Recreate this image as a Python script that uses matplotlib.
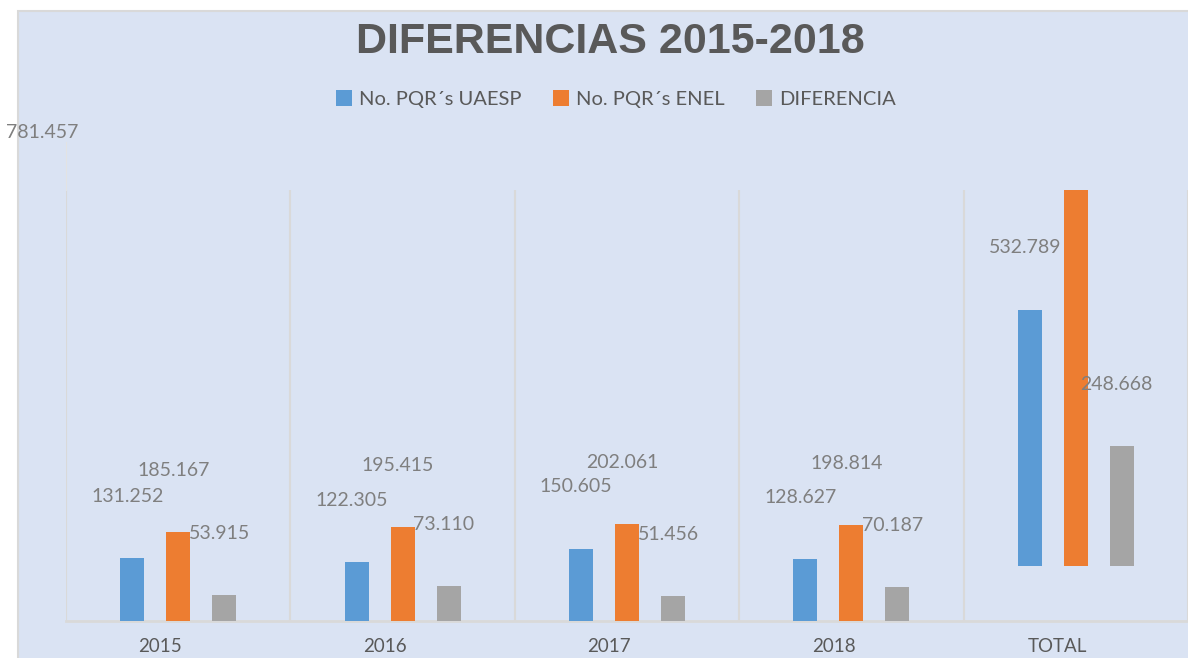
import numpy as np
import matplotlib
matplotlib.use("Agg")
import matplotlib.pyplot as plt
from matplotlib.patches import Rectangle, Patch
from matplotlib.lines import Line2D

# Data (thousands, Spanish decimal style in labels)

categories = ["2015", "2016", "2017", "2018", "TOTAL"]
uaesp = [131.252, 122.305, 150.605, 128.627, 532.789]
enel = [185.167, 195.415, 202.061, 198.814, 781.457]
diferencia = [53.915, 73.110, 51.456, 70.187, 248.668]
series_names = ["No. PQR´s UAESP", "No. PQR´s ENEL", "DIFERENCIA"]

colors = ["#5B9BD5", "#ED7D31", "#A5A5A5"]
label_color = "#7F7F7F"
text_color = "#595959"
bg = "#DAE3F3"

# Figure

W, H = 1188, 658
fig = plt.figure(figsize=(W / 100, H / 100), dpi=100)
fig.patch.set_facecolor("white")
fig.patches.append(Rectangle((18 / W, -0.01), 1 - 18 / W + 0.01, 1.01 - 11 / H,
                             transform=fig.transFigure, facecolor=bg,
                             edgecolor="#D9D9D9", linewidth=1.5, zorder=-10))

ax = fig.add_axes([66 / W, (H - 621) / H, 1 - 66 / W, 431 / H])
ax.set_facecolor("none")

x = np.arange(len(categories))
offsets = [-0.205, 0.0, 0.205]
width = 0.107
total_base = 114.6   # the TOTAL group floats above the axis in the original

bottoms = np.array([0, 0, 0, 0, total_base])
all_bars = []
for vals, off, col in zip([uaesp, enel, diferencia], offsets, colors):
    bars = ax.bar(x + off, vals, width, bottom=bottoms, color=col, zorder=3)
    all_bars.append(bars)

ax.set_xlim(-0.5, len(categories) - 0.5)
ax.set_ylim(0, total_base + max(enel))

# data labels, displaced above the bars like in the source chart
for vals, bars in zip([uaesp, enel, diferencia], all_bars):
    for i, (v, b) in enumerate(zip(vals, bars)):
        xc = b.get_x() + b.get_width() / 2
        top = b.get_y() + b.get_height()
        if vals is enel and i == len(vals) - 1:
            ax.annotate(f"{v:.3f}", xy=(xc, top), xytext=(42, H - 133),
                        textcoords="figure pixels", ha="center", va="center",
                        fontsize=14, color=label_color, family="Lato",
                        annotation_clip=False)
        else:
            ax.annotate(f"{v:.3f}", xy=(xc, top), xytext=(-3.6, 44.5),
                        textcoords="offset points", ha="center", va="center",
                        fontsize=14, color=label_color, family="Lato",
                        annotation_clip=False)

# faint leader line under the displaced label
fig.add_artist(Line2D([66 / W, 66 / W], [1 - 142 / H, 1 - 190 / H],
                      transform=fig.transFigure, color="#E3E3E3", linewidth=0.8))

# category labels sit a little left of the group centres in the original
ax.set_xticks(x - 0.08)
ax.set_xticklabels(categories, fontsize=13.5, color=text_color, family="Lato")
ax.set_xticks(np.arange(-0.5, len(categories)), minor=True)
ax.grid(which="minor", axis="x", color="#D9D9D9", linewidth=1.5, zorder=0)
ax.tick_params(axis="x", which="both", length=0, pad=12)
ax.set_yticks([])
for s in ["top", "right", "left"]:
    ax.spines[s].set_visible(False)
ax.spines["bottom"].set_color("#D9D9D9")
ax.spines["bottom"].set_linewidth(2)

# title and legend
fig.text(610 / W, 1 - 42 / H, "DIFERENCIAS 2015-2018", ha="center", va="center",
         fontsize=31, fontweight="bold", color=text_color, family="Liberation Sans")

handles = [Patch(facecolor=c, edgecolor="none") for c in colors]
fig.legend(handles, series_names, loc="center", bbox_to_anchor=(616 / W, 1 - 99 / H),
           ncol=3, frameon=False, handlelength=0.8, handleheight=0.8,
           handletextpad=0.35, columnspacing=1.55,
           prop={"family": "Lato", "size": 14.5}, labelcolor=text_color)

fig.savefig("out.png", dpi=100, facecolor=fig.get_facecolor())
